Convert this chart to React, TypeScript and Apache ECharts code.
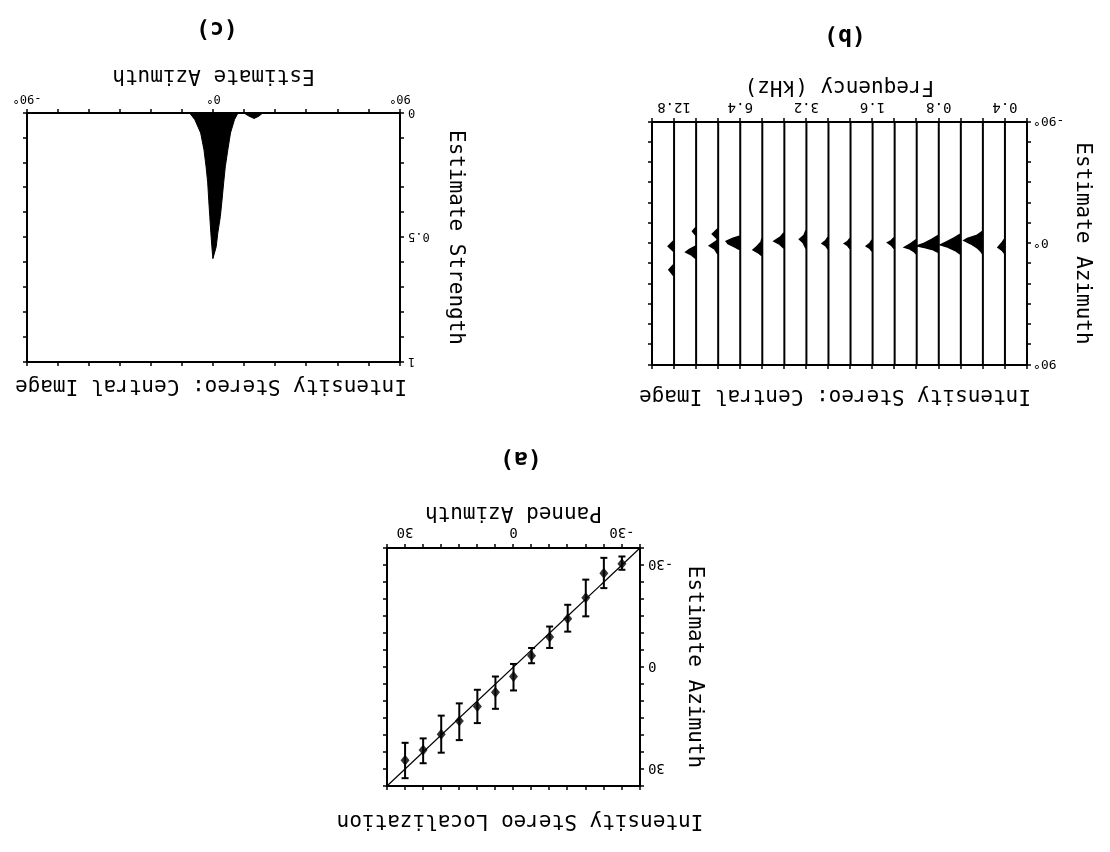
import React, { useEffect, useRef } from "react";
import * as echarts from "echarts";

const FONT = "'DejaVu Sans Mono', 'Liberation Mono', monospace";

// ---------- Panel (a): Intensity Stereo Localization ----------
const aPanned = [-30, -25, -20, -15, -10, -5, 0, 5, 10, 15, 20, 25, 30];
const aEstimate = [-30.4, -27.6, -20.4, -14.2, -8.8, -3.3, 2.8, 7.4, 11.6, 15.9, 19.8, 24.4, 27.4];
const aLow = [-32.5, -32.1, -25.7, -18.3, -11.9, -5.6, -0.9, 2.8, 6.7, 10.7, 14.3, 21.0, 22.3];
const aHigh = [-28.6, -23.2, -14.9, -10.4, -5.6, -1.1, 6.9, 12.3, 16.5, 21.5, 25.2, 28.3, 32.7];
const aTickLabels = [-30, 0, 30];
const aDiagonal = [[-35, -35], [35, 35]];

// ---------- Panel (b): Estimate azimuth per frequency band ----------
const bLinePos = [1, 2, 3, 4, 5, 6, 7, 8, 9, 10, 11, 12, 13, 14, 15, 16];
const bFreqLabelPos = [1, 4, 7, 10, 13, 16];
const bFreqLabels = ["0.4", "0.8", "1.6", "3.2", "6.4", "12.8"];
// each profile: [azimuth, amplitude (in line spacings)]
const bProfiles: number[][][] = [
  [[-3.5, 0], [0, 0.15], [2.8, 0.3], [5, 0.12], [7.5, 0]],
  [[-9, 0], [-6, 0.25], [-3.5, 0.7], [-2.3, 0.83], [0, 0.55], [3, 0.25], [6, 0.07], [8, 0]],
  [[-7, 0], [-4, 0.3], [-1, 0.65], [1, 0.9], [2.5, 0.6], [5, 0.25], [8, 0]],
  [[-6, 0], [-3, 0.3], [0, 0.65], [1.7, 0.95], [3, 0.6], [4.5, 0.25], [6.5, 0]],
  [[-3, 0], [0, 0.25], [2.7, 0.53], [4, 0.3], [6, 0.1], [8, 0]],
  [[-4.5, 0], [-2, 0.15], [-0.7, 0.3], [1, 0.15], [4, 0]],
  [[-3, 0], [0, 0.12], [2, 0.27], [3.5, 0.12], [6, 0]],
  [[-4, 0], [-1.5, 0.12], [0, 0.26], [1.5, 0.12], [4, 0]],
  [[-5, 0], [-2, 0.12], [0, 0.27], [1.5, 0.12], [4.5, 0]],
  [[-10, 0], [-6, 0.1], [-3.2, 0.3], [-1, 0.15], [4, 0]],
  [[-8, 0], [-5, 0.15], [-1.7, 0.45], [0.5, 0.2], [3.5, 0]],
  [[-4, 0], [-1, 0.05], [2.5, 0.25], [4.7, 0.4], [6.5, 0.2], [9, 0]],
  [[-5.5, 0], [-3.5, 0.35], [-1.5, 0.62], [0, 0.55], [2, 0.3], [4.5, 0]],
  [[-11, 0], [-7, 0.25], [-3.5, 0.03], [-2, 0.05], [1.6, 0.38], [4, 0.15], [8, 0]],
  [[-12, 0], [-9, 0.15], [-6, 0], [2, 0], [4.5, 0.3], [6.4, 0.45], [8.5, 0.2], [11, 0]],
  [[-2, 0], [2, 0.25], [6, 0], [15.5, 0], [19.4, 0.22], [24, 0]],
];

// ---------- Panel (c): Estimate strength vs azimuth ----------
const cAzimuth = [-90, -11.5, -9, -6.2, -4.6, -3.6, -2.8, -2.3, -1.8, -1.3, -0.8, -0.3, 1.3, 2.1, 3.3, 4.1, 4.9, 5.7, 6.9, 8.2, 10.1, 11.8, 14.7, 17, 19.6, 22, 23.7, 90];
const cStrength = [0, 0, 0.027, 0.08, 0.148, 0.215, 0.28, 0.35, 0.416, 0.48, 0.537, 0.585, 0.537, 0.48, 0.416, 0.35, 0.28, 0.215, 0.148, 0.08, 0.027, 0, 0, 0.012, 0.022, 0.012, 0, 0];

const degLabel = (v: number) => {
  if (Math.abs(v + 90) < 1e-6) return "-90°";
  if (Math.abs(v) < 1e-6) return "0°";
  if (Math.abs(v - 90) < 1e-6) return "90°";
  return "";
};

const axisLineStyle = { show: true, onZero: false, lineStyle: { color: "#000", width: 2 } };
const tickStyle = { show: true, inside: false, length: 4, lineStyle: { color: "#000", width: 1.5 } };
const nameStyle = { fontFamily: FONT, fontSize: 21, color: "#000" };

function mkAxis(o: any) {
  const { labelFmt, labelMargin, labelSize, ...rest } = o;
  return {
    type: "value",
    axisLine: axisLineStyle,
    axisTick: tickStyle,
    splitLine: { show: false },
    axisLabel: labelFmt
      ? { show: true, color: "#000", fontFamily: FONT, fontSize: labelSize || 14, margin: labelMargin ?? 8, formatter: labelFmt }
      : { show: false },
    nameLocation: "middle",
    nameTextStyle: nameStyle,
    ...rest,
  };
}

function buildOption(): any {
  const grid = [
    { left: 470, top: 66, width: 253, height: 238, outerBoundsMode: "none", containLabel: false },
    { left: 83, top: 487, width: 375, height: 243, outerBoundsMode: "none", containLabel: false },
    { left: 710, top: 490, width: 373, height: 249, outerBoundsMode: "none", containLabel: false },
  ];

  const xAxis = [
    mkAxis({
      gridIndex: 0, position: "bottom", min: -35, max: 35, interval: 5,
      labelFmt: (v: number) => (aTickLabels.indexOf(v) >= 0 ? String(v) : ""),
      name: "Panned Azimuth", nameGap: 23,
    }),
    mkAxis({ gridIndex: 0, position: "top", min: -35, max: 35, interval: 5 }),
    mkAxis({
      gridIndex: 1, position: "bottom", min: 0, max: 17, interval: 1,
      labelFmt: (v: number) => {
        const k = bFreqLabelPos.indexOf(v);
        return k >= 0 ? bFreqLabels[k] : "";
      },
      labelMargin: 7,
      name: "Frequency (kHz)", nameGap: 23,
    }),
    mkAxis({ gridIndex: 1, position: "top", min: 0, max: 17, interval: 1 }),
    mkAxis({
      gridIndex: 2, position: "bottom", min: -90, max: 90, interval: 15, inverse: true,
      labelFmt: degLabel, labelSize: 12, labelMargin: 8,
      name: "Estimate Azimuth", nameGap: 25,
    }),
    mkAxis({ gridIndex: 2, position: "top", min: -90, max: 90, interval: 15, inverse: true }),
  ];

  const yAxis = [
    mkAxis({
      gridIndex: 0, position: "left", min: -35, max: 35, interval: 5,
      labelFmt: (v: number) => (aTickLabels.indexOf(v) >= 0 ? String(v) : ""),
      name: "Estimate Azimuth", nameGap: 46,
    }),
    mkAxis({ gridIndex: 0, position: "right", min: -35, max: 35, interval: 5 }),
    mkAxis({
      gridIndex: 1, position: "left", min: -90, max: 90, interval: 15,
      labelFmt: degLabel, labelSize: 13, labelMargin: 6,
      name: "Estimate Azimuth", nameGap: 47,
    }),
    mkAxis({ gridIndex: 1, position: "right", min: -90, max: 90, interval: 15 }),
    mkAxis({
      gridIndex: 2, position: "left", min: 0, max: 1, interval: 0.1,
      labelFmt: (v: number) => {
        if (Math.abs(v) < 1e-6) return "0";
        if (Math.abs(v - 0.5) < 1e-6) return "0.5";
        if (Math.abs(v - 1) < 1e-6) return "1";
        return "";
      },
      labelSize: 12, labelMargin: 8,
      name: "Estimate Strength", nameGap: 47,
    }),
    mkAxis({ gridIndex: 2, position: "right", min: 0, max: 1, interval: 0.1 }),
  ];

  const series: any[] = [
    {
      type: "line", xAxisIndex: 0, yAxisIndex: 0, data: aDiagonal, symbol: "none",
      lineStyle: { color: "#000", width: 1.2 }, silent: true,
    },
    {
      type: "custom", xAxisIndex: 0, yAxisIndex: 0,
      data: aPanned.map((x, k) => [x, aLow[k], aHigh[k]]),
      encode: { x: 0, y: [1, 2] },
      silent: true,
      renderItem: (_p: any, api: any) => {
        const x = api.value(0), lo = api.value(1), hi = api.value(2);
        const p1 = api.coord([x, lo]);
        const p2 = api.coord([x, hi]);
        const w = 3.5;
        const st = { stroke: "#000", lineWidth: 2 };
        return {
          type: "group",
          children: [
            { type: "line", shape: { x1: p1[0], y1: p1[1], x2: p2[0], y2: p2[1] }, style: st },
            { type: "line", shape: { x1: p1[0] - w, y1: p1[1], x2: p1[0] + w, y2: p1[1] }, style: st },
            { type: "line", shape: { x1: p2[0] - w, y1: p2[1], x2: p2[0] + w, y2: p2[1] }, style: st },
          ],
        };
      },
    },
    {
      type: "scatter", xAxisIndex: 0, yAxisIndex: 0,
      data: aPanned.map((x, k) => [x, aEstimate[k]]),
      symbol: "diamond", symbolSize: [9, 11],
      itemStyle: { color: "#000" }, silent: true,
    },
    {
      type: "custom", xAxisIndex: 2, yAxisIndex: 2,
      data: bLinePos.map((p) => [p, 0]),
      silent: true, clip: false,
      renderItem: (params: any, api: any) => {
        const i = params.dataIndex;
        const x0 = bLinePos[i];
        const pts: number[][] = [api.coord([x0, -90])];
        bProfiles[i].forEach(([az, amp]) => pts.push(api.coord([x0 + amp, az])));
        pts.push(api.coord([x0, 90]));
        return {
          type: "polygon",
          shape: { points: pts },
          style: { fill: "#000", stroke: "#000", lineWidth: 2, lineJoin: "miter" },
        };
      },
    },
    {
      type: "line", xAxisIndex: 4, yAxisIndex: 4,
      data: cAzimuth.map((a, k) => [a, cStrength[k]]),
      symbol: "none", silent: true,
      lineStyle: { color: "#000", width: 1 },
      areaStyle: { color: "#000", opacity: 1 },
    },
  ];

  const txt = (text: string, x: number, y: number, size: number, bold = false) => ({
    type: "text",
    x, y,
    style: {
      text,
      fill: "#000",
      font: `${bold ? "bold " : ""}${size}px ${FONT}`,
      align: "center",
      verticalAlign: "middle",
      textAlign: "center",
      textVerticalAlign: "middle",
    },
  });

  const graphic = [
    txt("(a)", 589, 392, 23, true),
    txt("Intensity Stereo Localization", 590, 30, 21),
    txt("(b)", 265, 815, 23, true),
    txt("Intensity Stereo: Central Image", 275, 455, 21),
    txt("(c)", 893, 822, 23, true),
    txt("Intensity Stereo: Central Image", 899, 465, 21),
  ];

  return {
    animation: false,
    backgroundColor: "#fff",
    grid,
    xAxis,
    yAxis,
    series,
    graphic,
  };
}

export default function App() {
  const ref = useRef<HTMLDivElement>(null);
  useEffect(() => {
    document.body.style.margin = "0";
    if (!ref.current) return;
    const chart = echarts.init(ref.current, undefined, { renderer: "svg", width: 1110, height: 852 });
    chart.setOption(buildOption());
    return () => chart.dispose();
  }, []);
  return (
    <div
      style={{
        position: "fixed",
        left: 0,
        top: 0,
        width: 1110,
        height: 852,
        background: "#fff",
        transform: "rotate(180deg)",
        transformOrigin: "50% 50%",
      }}
    >
      <div ref={ref} style={{ width: 1110, height: 852 }} />
    </div>
  );
}
